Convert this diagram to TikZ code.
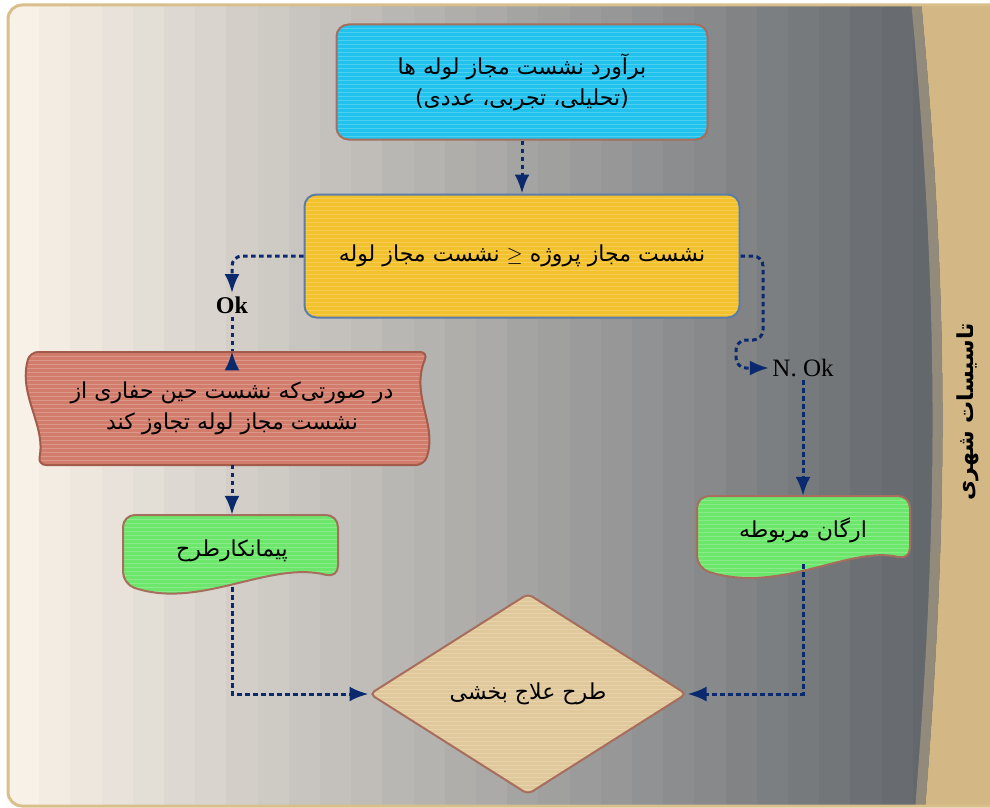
\documentclass[tikz,border=0pt]{standalone}
\usepackage{amsmath}
\usepackage{amssymb}
\usepackage{fontspec}
\usepackage{tikz}
\usetikzlibrary{arrows.meta,shapes.geometric}
\setmainfont{Liberation Serif}
\newfontfamily\fa[Script=Arabic]{DejaVu Sans}
\TeXXeTstate=1

\definecolor{bgleft}{HTML}{F8F1E7}
\definecolor{bgright}{HTML}{63686D}
\definecolor{frametan}{HTML}{D9BF8C}
\definecolor{sidetan}{HTML}{D3B784}
\definecolor{sidestripe}{HTML}{928A7A}
\definecolor{flownavy}{HTML}{0B2A6E}
\definecolor{boxblue}{HTML}{22C2EE}
\definecolor{boxyellow}{HTML}{F3C12B}
\definecolor{boxred}{HTML}{D27D6C}
\definecolor{boxgreen}{HTML}{6CE76C}
\definecolor{boxtan}{HTML}{E0C89B}
\definecolor{edgebrown}{HTML}{A76D5D}
\definecolor{edgered}{HTML}{A35B4B}
\definecolor{edgesteel}{HTML}{5B7DA8}

\begin{document}
\begin{tikzpicture}[x = 1pt, y = -1pt,
    fatext/.style = {font = \fa\fontsize{22}{31}\selectfont, align = center, text = black},
    stripes/.style = {path picture = {\foreach \k in {0, 4, ..., 240}
        \draw [white, opacity = 0.2, line width = 1pt] ([yshift = -\k pt] path picture bounding box.north west)
              -- ([yshift = -\k pt] path picture bounding box.north east);}},
    process/.style = {rectangle, rounded corners = 12pt, draw = edgebrown, line width = 2pt, stripes, fatext},
    docshape/.style = {fill = boxgreen, draw = edgebrown, line width = 2pt, rounded corners = 12pt, stripes},
    flow/.style = {draw = flownavy, line width = 3pt, dash pattern = on 4.5pt off 3.5pt,
                   -{Latex[length = 19pt, width = 15pt]}},
    flowline/.style = {flow, -},
    tipup/.style = {draw = flownavy, line width = 3pt, -{Latex[length = 19pt, width = 15pt]}}]

      \useasboundingbox (0, 0) rectangle (990, 808);
      \begin{scope}
        \clip [rounded corners = 14pt] (8, 5) rectangle (1010, 806);
        \foreach \i in {0, ..., 29} {
          \pgfmathtruncatemacro{\mix}{100 - \i * 100 / 29}
          \fill [bgleft!\mix!bgright] (8 + \i * 31.2, 0) rectangle (40 + \i * 31.2, 810);
        }
        \fill [sidetan] (921, 0) .. controls (949, 300) and (949, 510) .. (925, 810) -- (1010, 810) -- (1010, 0) -- cycle;
        \draw [sidestripe, line width = 10pt] (916, 0) .. controls (944, 300) and (944, 510) .. (920, 810);
      \end{scope}
      \draw [frametan, line width = 3pt, rounded corners = 14pt] (8, 5) rectangle (1010, 806);

      \node [process, fill = boxblue, minimum width = 371pt, minimum height = 115pt] (estimate) at (522, 82)
            {\beginR برآورد نشست مجاز لوله ها\endR\\)\beginR تحلیلی، تجربی، عددی\endR(};
      \node [process, fill = boxyellow, draw = edgesteel, minimum width = 435pt, minimum height = 123pt] (check) at (522, 256)
            {\beginR نشست مجاز لوله\endR{} $\geq$ \beginR نشست مجاز پروژه\endR};

      \draw [fill = boxred, draw = edgered, line width = 2pt, rounded corners = 8pt, stripes]
            (200, 352) -- (428, 352) .. controls (410, 395) and (438, 425) .. (424, 465)
            -- (38, 465) .. controls (46, 425) and (18, 395) .. (30, 352) -- cycle;
      \node [fatext, minimum width = 390pt, minimum height = 113pt] (exceed) at (232, 408)
            {\beginR در صورتی‌که نشست حین حفاری از\endR\\\beginR نشست مجاز لوله تجاوز کند\endR};

      \draw [docshape] (123, 550) -- (123, 515) -- (338, 515) -- (338, 578)
            .. controls (270, 560) and (200, 610) .. (123, 584) -- cycle;
      \node [fatext, minimum width = 215pt, minimum height = 72pt] (contractor) at (232, 551) {\beginR پیمانکارطرح\endR};

      \draw [docshape] (697, 530) -- (697, 496) -- (910, 496) -- (910, 560)
            .. controls (850, 545) and (780, 595) .. (697, 568) -- cycle;
      \node [fatext, minimum width = 213pt, minimum height = 68pt] (authority) at (803, 530) {\beginR ارگان مربوطه\endR};

      \node [fatext, diamond, fill = boxtan, draw = edgebrown, line width = 2pt, rounded corners = 5pt, stripes,
             minimum width = 317pt, minimum height = 201pt, inner sep = 0pt] (remedy) at (528, 694) {\beginR طرح علاج بخشی\endR};

      \node [font = \bfseries\fontsize{24}{24}\selectfont] (ok) at (232, 305) {Ok};
      \node [font = \fontsize{25}{25}\selectfont] (notok) at (803, 368) {N. Ok};
      \node [font = \fa\bfseries\fontsize{22}{22}\selectfont, rotate = 90] (side) at (968, 412) {\beginR تاسیسات شهری\endR};

      \draw [flow] (estimate) -- (check);
      \draw [flow, rounded corners = 10pt] (check.west) -| (ok.north);
      \draw [flowline] (ok.south) -- (exceed.north);
      \draw [tipup] ([yshift = -19pt] exceed.north) -- (exceed.north);
      \draw [flow, rounded corners = 10pt] (check.east) -- (763, 256) -- (763, 340) -- (736, 340) -- (736, 368) -- (notok.west);
      \draw [flow] (notok.south) -- (authority.north);
      \draw [flow] (exceed.south) -- (contractor.north);
      \draw [flow] (contractor.south) |- (remedy.west);
      \draw [flow] (authority.south) |- (remedy.east);
\end{tikzpicture}
\end{document}
